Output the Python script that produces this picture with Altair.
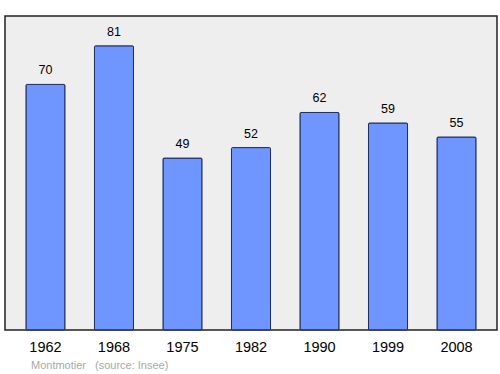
import altair as alt
import pandas as pd

years = ["1962", "1968", "1975", "1982", "1990", "1999", "2008"]
population = [70, 81, 49, 52, 62, 59, 55]
footer_place = "Montmotier"
footer_source = "(source: Insee)"

df = pd.DataFrame({"year": years, "pop": population})

FONT = "Liberation Sans"

x = alt.X("year:N", sort=years,
          scale=alt.Scale(paddingInner=0.43, paddingOuter=0.306),
          axis=alt.Axis(title=None, labelAngle=0, ticks=False, domain=False,
                        labelFontSize=14.5, labelPadding=10, labelColor="#000",
                        labelFont=FONT))
y = alt.Y("pop:Q", scale=alt.Scale(domain=[0, 89.5], nice=False, zero=True),
          axis=None)

bars = alt.Chart(df).mark_bar(color="#6f96ff", stroke="#1f2d5c", strokeWidth=1,
                              cornerRadius=1).encode(x=x, y=y)
labels = alt.Chart(df).mark_text(dy=-14, fontSize=12.5, font=FONT, color="#000").encode(
    x=x, y=y, text="pop:Q")

footer = alt.Chart(pd.DataFrame({"t": [footer_place, footer_source], "px": [26, 90]})).mark_text(
    align="left", baseline="middle", fontSize=11, font=FONT, color="#a8a8a8"
).encode(x=alt.X("px:Q", scale=None), y=alt.value(350), text="t:N")

chart = alt.layer(bars, labels, footer).properties(
    width=492, height=314,
    autosize=alt.AutoSizeParams(type="none"),
    padding={"left": 5, "top": 16, "right": 3, "bottom": 44},
    background="white",
).configure_view(fill="#eeeeee", stroke="#222222", strokeWidth=1.5)

chart.save("out.html", embed_options={"renderer": "svg", "actions": False})
